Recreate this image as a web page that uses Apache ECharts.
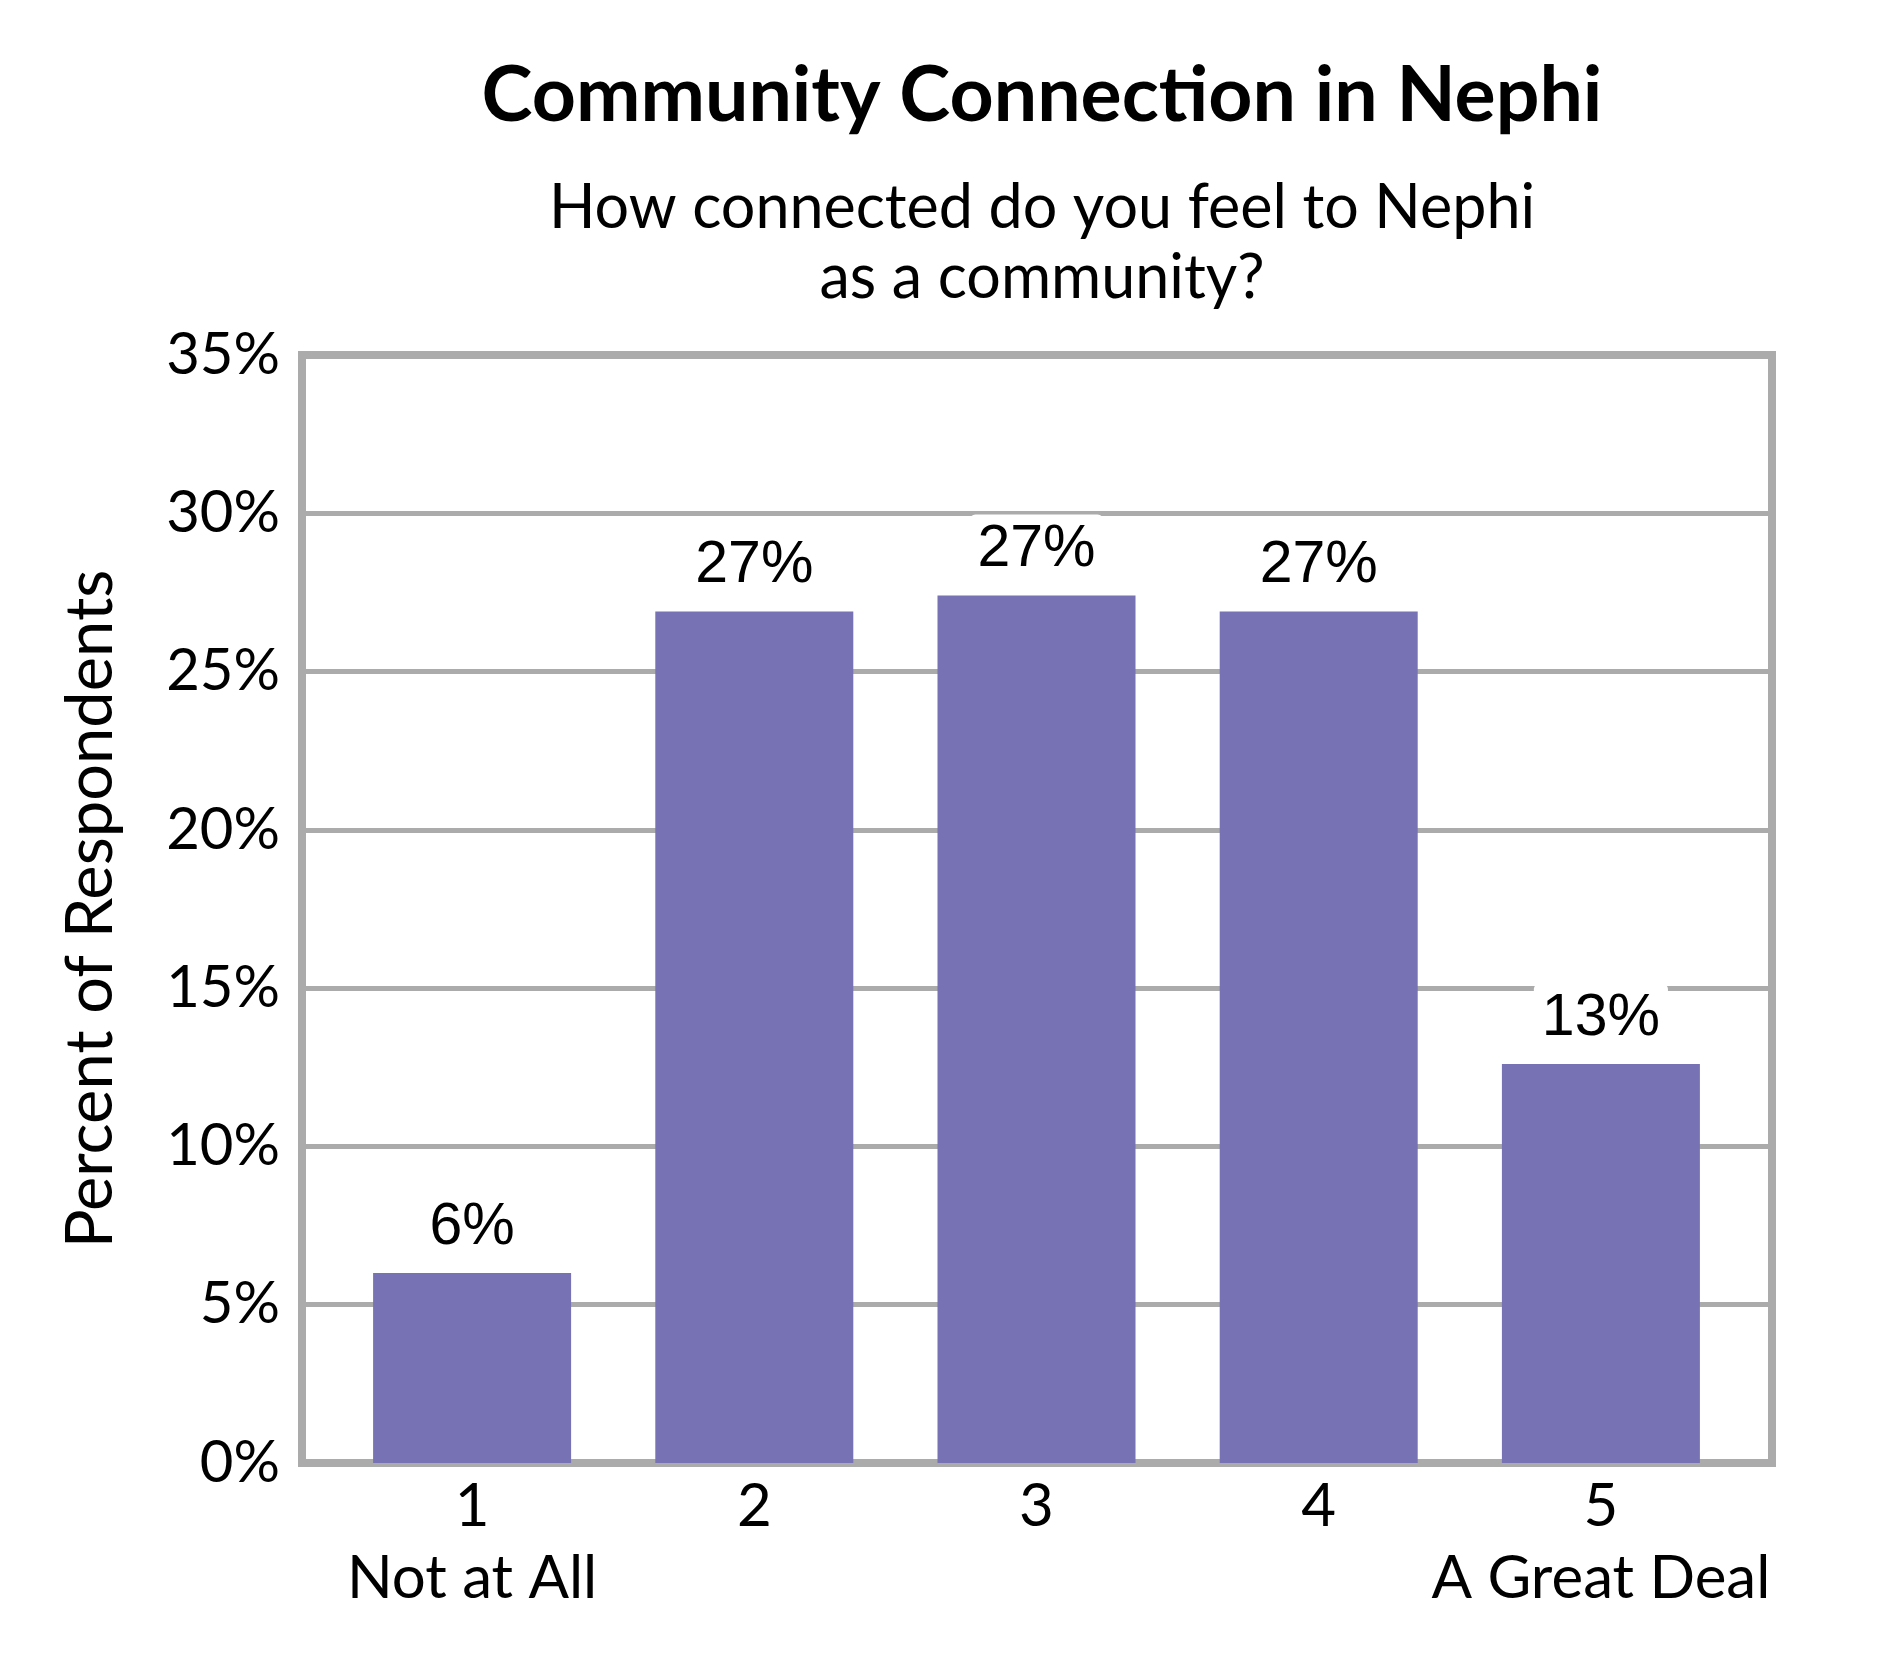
<!DOCTYPE html>
<html>
<head>
<meta charset="utf-8">
<title>Community Connection in Nephi</title>
<script src="https://cdn.jsdelivr.net/npm/echarts@6/dist/echarts.min.js"></script>
<style>
  html, body { margin: 0; padding: 0; background: #fff; }
  #chart { width: 1890px; height: 1680px; }
</style>
</head>
<body>
<div id="chart"></div>
<script>
// categories along the x axis (score + anchor text)
const categories = ['1', '2', '3', '4', '5']
const anchors = ['Not at All', '', '', '', 'A Great Deal']
// percent of respondents
const percents = [6.0, 26.9, 27.4, 26.9, 12.6]
// y axis ticks
const yTicks = { min: 0, max: 35, step: 5 }

const axisFont = 'Lato, "Open Sans", sans-serif'
const frameGray = '#ababab'
const barColor = '#7672b3'

let chart = echarts.init(document.getElementById('chart'), null, { renderer: 'canvas' })

chart.setOption({
  backgroundColor: '#fff',
  animation: false,
  title: [
    {
      text: 'Community Connection in Nephi',
      left: 1037,
      top: 53,
      textAlign: 'center',
      textStyle: { fontFamily: axisFont, fontWeight: 'bold', fontSize: 77, color: '#000' }
    },
    {
      text: 'How connected do you feel to Nephi\nas a community?',
      left: 1037,
      top: 168,
      textAlign: 'center',
      textStyle: { fontFamily: axisFont, fontWeight: 'normal', fontSize: 61, lineHeight: 70, color: '#000' }
    }
  ],
  grid: [
    // frame + gridlines
    { left: 302, right: 118, top: 355, bottom: 217, show: true, borderColor: frameGray, borderWidth: 8, backgroundColor: 'transparent' },
    // bars sit a bit inside the frame
    { left: 331, right: 148, top: 355, bottom: 217 }
  ],
  xAxis: [
    { gridIndex: 0, type: 'category', data: categories, show: false },
    {
      gridIndex: 1,
      type: 'category',
      data: categories,
      axisLine: { show: false },
      axisTick: { show: false },
      axisLabel: {
        interval: 0,
        margin: 8,
        fontFamily: axisFont,
        fontSize: 60,
        lineHeight: 72,
        color: '#000',
        formatter: (v, i) => anchors[i] ? v + '\n' + anchors[i] : v
      }
    }
  ],
  yAxis: [
    {
      gridIndex: 0,
      type: 'value',
      min: yTicks.min,
      max: yTicks.max,
      interval: yTicks.step,
      name: 'Percent of Respondents',
      nameLocation: 'middle',
      nameRotate: 90,
      nameGap: 178,
      nameTextStyle: { fontFamily: axisFont, fontSize: 65, color: '#000' },
      axisLine: { show: false },
      axisTick: { show: false },
      axisLabel: { margin: 22, fontFamily: axisFont, fontSize: 58, color: '#000', formatter: '{value}%' },
      splitLine: { show: true, lineStyle: { color: frameGray, width: 5 } }
    },
    { gridIndex: 1, type: 'value', min: yTicks.min, max: yTicks.max, interval: yTicks.step, show: false, splitLine: { show: false } }
  ],
  series: [
    {
      type: 'bar',
      xAxisIndex: 1,
      yAxisIndex: 1,
      data: percents,
      barWidth: 198,
      itemStyle: { color: barColor },
      label: {
        show: true,
        position: 'top',
        distance: 12,
        formatter: p => Math.round(p.value) + '%',
        fontFamily: '"Liberation Sans", Arial, sans-serif',
        fontSize: 59,
        color: '#000',
        backgroundColor: '#fff',
        padding: [6, 8, 4, 8],
        borderRadius: 6
      }
    }
  ]
})
</script>
</body>
</html>
